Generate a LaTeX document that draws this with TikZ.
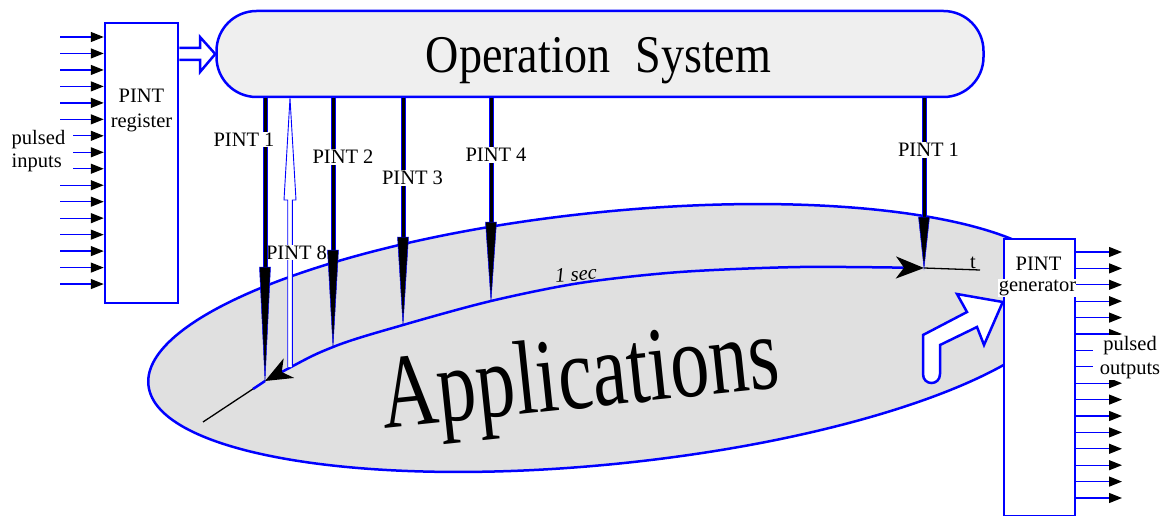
\documentclass[tikz,border=0pt]{standalone}
\usepackage{fontspec}
\setmainfont{Liberation Serif}
\usepackage{graphicx}
\usetikzlibrary{arrows.meta,calc}
\definecolor{osfill}{HTML}{EFEFEF}
\definecolor{appfill}{HTML}{E0E0E0}
\begin{document}
\begin{tikzpicture}[x=1pt,y=-1pt,
  every node/.style={font=\fontsize{20.5}{23.5}\selectfont},
  boxstyle/.style={draw=blue, line width=2.5pt, fill=white, inner sep=0pt},
  lbl/.style={fill=white, inner sep=1pt},
  pinarrow/.style={blue, line width=1.3pt, -{Triangle[length=13pt,width=10pt,color=black,fill=black]}},
  shaft/.style={draw=blue, line width=1pt, double=black, double distance=3pt},
  spike/.style={fill=black, draw=blue, line width=0.5pt, line join=miter},
  hollow/.style={draw=blue, fill=white, line width=2.5pt, line join=miter},
  axisline/.style={black, line width=1.3pt},
]
\useasboundingbox (0,0) rectangle (1170,516);

% Applications ellipse
\draw[blue, line width=2.5pt, fill=appfill, shift={(608,338)}, rotate=5.86]
  (0,0) ellipse [x radius=462, y radius=126];
\node[font=\fontsize{100}{100}\selectfont, rotate=6, anchor=base] (app) at (583,408)
  {\scalebox{0.78}[1.05]{Applications}};

% Operation System
\node[draw=blue, line width=2.5pt, fill=osfill, rounded corners=40pt,
  minimum width=767pt, minimum height=86pt, inner sep=0pt] (os) at (600,54) {};
\node[font=\fontsize{53}{53}\selectfont, anchor=base] (ostext) at (598.5,73)
  {\scalebox{0.87}[1]{Operation\hspace{0.55em}System}};

% PINT register
\node[boxstyle, minimum width=73pt, minimum height=280pt] (reg) at (141.5,163) {};
\node[align=center, inner sep=0pt, font=\fontsize{20.5}{24.5}\selectfont] (regtext) at (141.5,110.5) {PINT\\register};

% PINT generator
\node[boxstyle, minimum width=71pt, minimum height=277pt] (gen) at (1039.5,377.5) {};
\node[inner sep=0pt] (gentext1) at (1038.5,264) {PINT};
\node[lbl] (gentext2) at (1037.5,288) {generator};

% input arrows
\foreach \i in {0,...,15} {
  \pgfmathsetmacro\yy{37+16.47*\i}
  \coordinate (in\i) at (60,\yy);
  \draw[pinarrow] (in\i) -- (in\i -| reg.west);
}
\node[lbl, align=left, inner xsep=8pt, inner ysep=3pt] (pin) at (38.5,151) {pulsed\\inputs};

% output arrows
\foreach \i in {0,...,15} {
  \pgfmathsetmacro\yy{252+16.4*\i}
  \coordinate (out\i) at (1122,\yy);
  \draw[pinarrow] (out\i -| gen.east) -- (out\i);
}
\node[lbl, align=center, inner xsep=7pt, inner ysep=1pt] (pout) at (1130,357.5) {pulsed\\outputs};

% hollow arrow register -> OS
\draw[hollow] (reg.east |- 0,48) -- (200,48) -- (200,37) -- (os.west) -- (200,72) -- (200,60) -- (reg.east |- 0,60);

% hollow bent arrow applications -> generator
\draw[hollow] (923,335) -- (967,312) -- (957,294) -- (gen.west |- 0,302) -- (984,345) -- (977,327)
  -- (940,345) -- (940,374) .. controls (940,386) and (923,386) .. (923,374) -- cycle;

% time axis
\foreach \n/\x/\h/\t in {1/265/267/381, 2/333/250/347, 3/403/237/325, 4/491/222/301, 5/924/217/268} {
  \coordinate (h\n) at (\x,\h);
  \coordinate (p\n) at (\x,\t);
}
\coordinate (axend) at (203,422);
\coordinate (tend) at (980,270);
\draw[axisline] (axend) -- (p1);
\draw[blue, line width=2.5pt] (253,389) -- (p1);
\draw[blue, line width=2.5pt,
  {Stealth[length=27pt,width=22pt,inset=8pt,color=black,fill=black]}-{Stealth[length=28pt,width=22pt,inset=8pt,color=black,fill=black]}]
  plot[smooth, tension=0.5] coordinates {(265,381) (333,347) (403,325) (491,301) (580,283) (680,272) (800,267) (924,268)};
\draw[axisline] (p5) -- (tend);
\node[anchor=base, inner sep=0pt] (tlbl) at (973,268) {t};
\node[rotate=4, inner sep=0pt] (sec) at (576,274) {\itshape 1 sec};

% PINT 8 hollow up arrow
\coordinate (p8) at (290,367);
\draw[blue, line width=0.9pt, fill=white, line join=miter]
  ($(p8)+(-2.3,0)$) -- ($(p8)+(-2.3,-167)$) -- ($(p8)+(-6,-167)$) -- (os.south -| p8)
  -- ($(p8)+(6,-167)$) -- ($(p8)+(2.3,-167)$) -- ($(p8)+(2.3,0)$);
\node[lbl, inner sep=0.5pt] (l8) at (296.5,252.5) {PINT 8};

% black PINT arrows
\foreach \n in {1,...,5} {
  \draw[shaft] (os.south -| h\n) -- (h\n);
  \filldraw[spike] ($(h\n)+(-5.5,0)$) -- (p\n) -- ($(h\n)+(5.5,0)$) -- cycle;
}

% labels
\node[lbl] (l1) at (244,139.5) {PINT 1};
\node[lbl] (l2) at (343,157) {PINT 2};
\node[lbl] (l3) at (412.5,178) {PINT 3};
\node[lbl] (l4) at (496,155) {PINT 4};
\node[lbl] (l5) at (928.5,150) {PINT 1};
\end{tikzpicture}
\end{document}
